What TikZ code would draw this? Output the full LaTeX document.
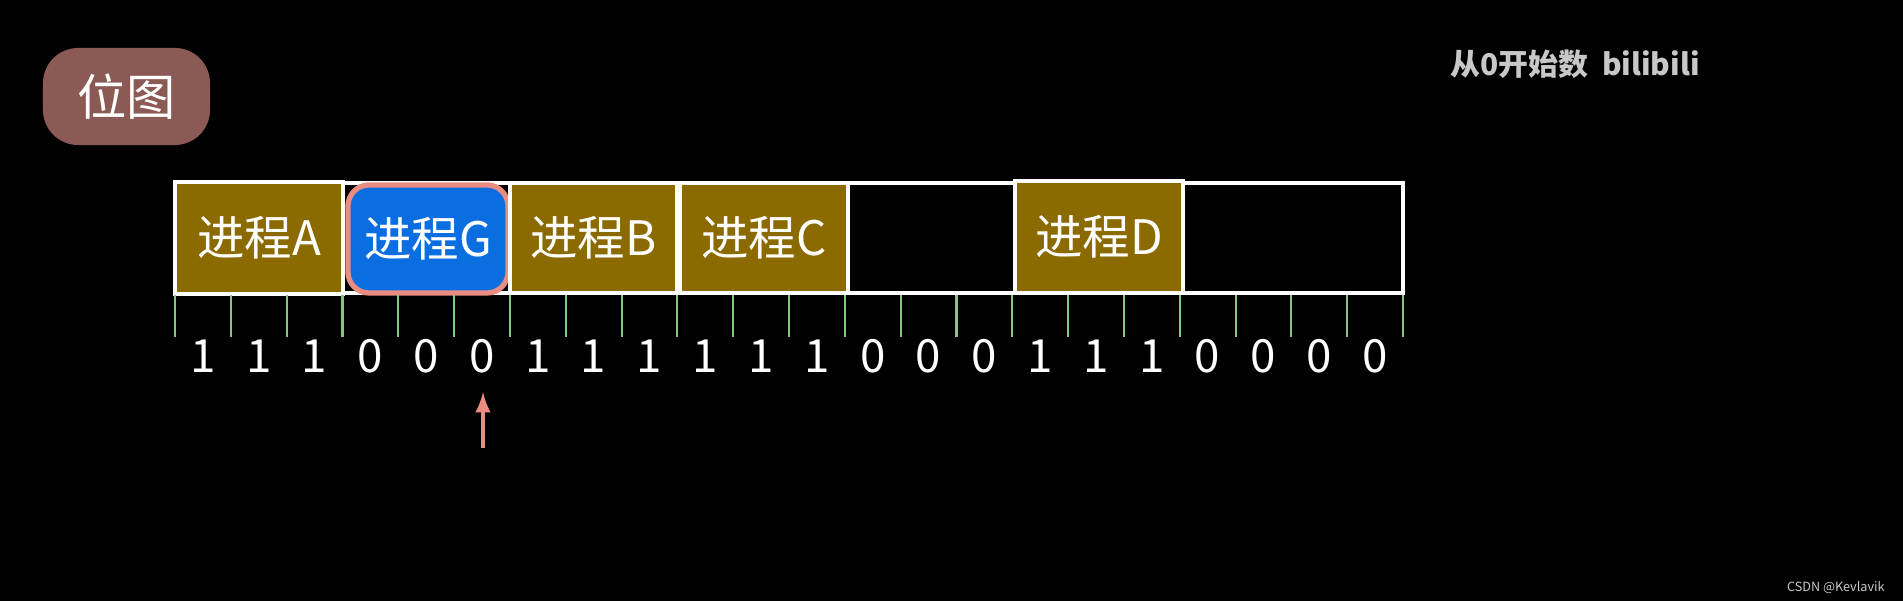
\documentclass[tikz,border=0pt]{standalone}
\usepackage{fontspec}
\setmainfont{Noto Sans CJK SC}
\begin{document}
\begin{tikzpicture}[x=0.01cm,y=-0.01cm,
  proc/.style={draw=white,line width=1.2pt,fill={rgb,255:red,139;green,106;blue,0},text=white,font=\fontsize{13.5}{14}\selectfont,inner sep=0pt},
  tick/.style={draw={rgb,255:red,130;green,200;blue,130},line width=0.6pt},
  digit/.style={text=white,font=\fontsize{13}{14}\selectfont}]
\fill[black] (0,0) rectangle (1903,601);
\useasboundingbox (0,0) rectangle (1903,601);
\node[fill={rgb,255:red,140;green,90;blue,84},rounded corners=10pt,minimum width=1.67cm,minimum height=0.97cm,text=white,font=\fontsize{14}{15}\selectfont] (title) at (126.5,96.5) {位图};
\node[text={rgb,255:red,200;green,200;blue,200},font=\bfseries\fontsize{8.5}{9}\selectfont,anchor=east] (logo) at (1712,64) {从0开始数\ \ bilibili};
\node[text={rgb,255:red,200;green,200;blue,200},font=\fontsize{3.6}{4}\selectfont,anchor=east] (csdn) at (1897,588) {CSDN @Kevlavik};
\node[draw=white,line width=1.2pt,minimum width=12.28cm,minimum height=1.10cm,inner sep=0pt] (bar) at (789,238) {};
\node[proc,minimum width=1.68cm,minimum height=1.12cm] (A) at (259,238) {进程A};
\node[draw={rgb,255:red,235;green,140;blue,130},line width=1.5pt,fill={rgb,255:red,10;green,110;blue,225},rounded corners=6pt,text=white,font=\fontsize{13.5}{14}\selectfont,minimum width=1.60cm,minimum height=1.08cm] (G) at (428,239) {进程G};
\node[proc,minimum width=1.67cm,minimum height=1.10cm] (B) at (593.5,238) {进程B};
\node[proc,minimum width=1.68cm,minimum height=1.10cm] (C) at (764,238) {进程C};
\node[proc,minimum width=1.68cm,minimum height=1.12cm] (D) at (1099,237) {进程D};
\foreach \k in {0,...,22} {
  \coordinate (t\k) at ({175+\k*55.82},295);
  \draw[tick] (t\k) -- ++(0,42);
}
\foreach \d [count=\i from 0] in {1,1,1,0,0,0,1,1,1,1,1,1,0,0,0,1,1,1,0,0,0,0} {
  \node[digit] (d\i) at ({175+\i*55.82+27.9},356) {\d};
}
\coordinate (arrowtail) at (483,448);
\coordinate (arrowhead) at (483,392);
\draw[draw={rgb,255:red,235;green,140;blue,130},line width=1pt,-latex] (arrowtail) -- (arrowhead);
\end{tikzpicture}
\end{document}
